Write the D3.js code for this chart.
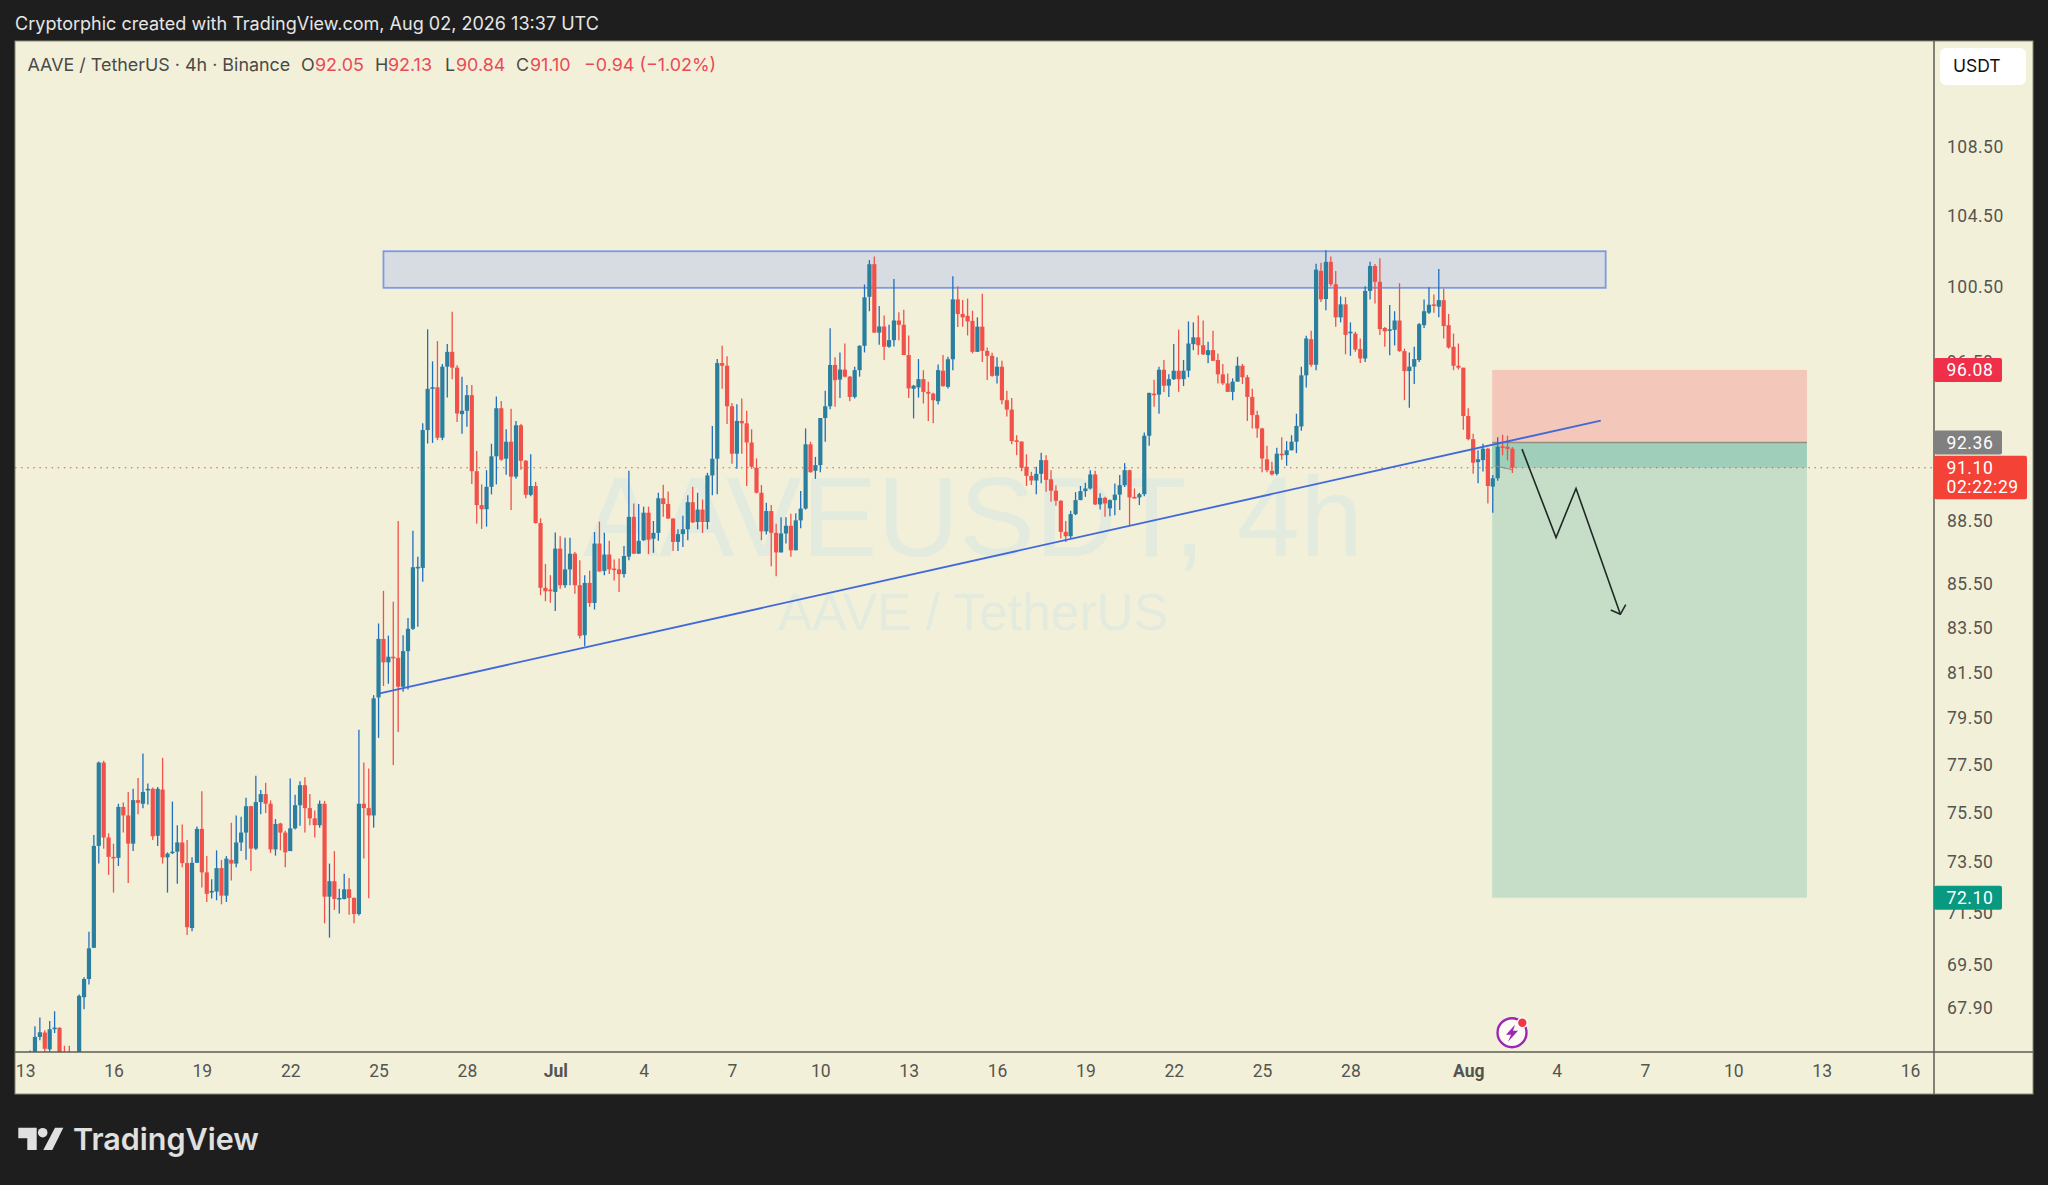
<!DOCTYPE html>
<html>
<head>
<meta charset="utf-8">
<script src="https://cdnjs.cloudflare.com/ajax/libs/d3/7.8.5/d3.min.js"></script>
<style>
  html, body { margin: 0; padding: 0; background: #1e1e1e; overflow: hidden; }
  text { font-family: Inter, Roboto, sans-serif; }
</style>
</head>
<body>
<div id="chartContainer"></div>
<script>
// 4h candles, Jun 13 04:00 -> Aug 2 12:00 (first bars are mostly under the time axis)
var opens = [
  66.0,66.0,66.84,67.0,66.39,67.13,67.17,65.9,65.7,65.4,
  65.8,68.3,68.98,70.16,74.16,77.6,74.5,73.72,73.68,75.75,
  75.4,74.25,76.03,75.88,76.47,76.5,74.57,76.47,73.7,73.9,
  73.93,74.3,73.47,70.92,73.48,74.85,73.1,72.3,72.34,73.27,
  72.18,73.6,73.45,74.3,74.7,75.78,74.05,75.95,76.28,75.88,
  74.02,75.07,74.7,73.95,74.87,75.82,76.65,75.7,75.28,75.0,
  75.88,72.14,72.75,72.05,72.05,72.43,72.09,71.46,75.88,75.7,
  75.4,80.4,83.0,81.95,82.2,82.15,80.87,82.45,83.46,86.3,
  86.27,92.99,95.12,95.18,92.6,96.25,97.03,96.2,93.8,93.97,
  94.77,90.93,89.27,89.07,90.16,91.67,94.1,91.55,92.4,90.66,
  93.23,91.45,89.77,90.2,88.4,85.34,85.26,85.15,87.18,85.46,
  86.2,86.94,85.46,83.17,85.57,84.64,87.42,86.13,86.9,86.24,
  86.2,85.98,86.8,88.7,86.94,87.58,88.9,87.65,87.93,89.6,
  89.32,88.62,87.5,87.87,88.1,89.41,88.45,89.05,88.45,90.72,
  91.55,96.44,96.3,94.2,91.8,93.45,93.33,92.36,91.1,89.87,
  88.0,88.98,87.93,87.0,87.9,88.27,87.1,88.53,89.1,92.27,
  90.95,91.23,93.6,94.2,96.34,95.58,96.1,95.73,94.68,96.07,
  97.35,99.98,101.77,98.05,98.38,97.3,97.65,98.7,98.47,96.86,
  95.1,95.17,95.6,94.94,94.85,94.46,96.04,95.2,96.64,99.84,
  99.05,98.95,98.68,97.03,98.37,97.08,96.82,95.78,96.25,94.51,
  94.03,92.47,92.41,91.15,90.7,90.47,90.8,91.48,90.53,89.97,
  89.48,87.98,87.77,88.83,89.51,89.95,90.08,90.77,89.3,89.62,
  89.11,89.51,89.78,90.24,90.98,89.67,89.64,89.8,92.7,94.85,
  94.8,96.09,95.26,95.6,96.04,95.6,96.04,97.44,97.8,97.38,
  96.86,97.12,96.6,95.85,95.38,94.94,95.47,96.3,95.7,94.68,
  93.75,93.07,91.52,90.95,90.8,91.8,91.73,91.97,92.4,93.17,
  95.8,97.7,96.35,101.4,99.86,101.9,100.67,98.87,99.57,98.05,
  98.0,97.18,96.68,100.3,101.67,100.8,98.3,98.17,98.2,98.7,
  97.07,96.02,96.25,96.6,98.45,99.12,99.57,99.45,99.8,98.45,
  97.3,96.3,96.2,93.7,92.53,91.38,91.48,92.05,90.17,90.58,
  92.17,92.15,92.05
];
var highs = [
  66.35,67.23,67.55,67.08,67.42,67.78,67.2,66.52,66.52,65.9,
  68.4,69.05,70.78,74.6,77.65,77.68,74.67,74.25,75.88,75.93,
  76.37,76.5,76.95,77.98,76.72,76.55,76.58,77.8,73.9,75.97,
  75.0,75.03,74.4,73.7,74.95,76.4,73.75,72.83,73.98,73.6,
  73.75,75.1,75.4,75.35,76.13,75.8,77.05,76.45,76.75,76.02,
  75.25,75.1,74.77,76.93,76.25,76.82,76.98,76.28,75.6,76.02,
  76.0,73.45,73.95,72.45,73.05,72.88,72.12,79.0,77.6,77.35,
  80.5,83.7,85.2,83.15,84.7,88.5,83.17,83.95,88.03,86.79,
  93.33,98.23,96.53,97.6,96.39,97.44,99.17,96.33,95.72,95.3,
  95.3,91.93,90.28,90.98,92.3,94.7,94.47,93.03,94.07,93.45,
  93.3,91.48,91.77,90.4,88.63,86.45,85.93,87.95,87.77,87.7,
  87.7,87.02,86.63,85.93,86.14,87.97,88.47,87.93,87.55,86.66,
  86.71,87.3,90.95,89.35,89.32,89.19,89.19,88.5,89.87,90.26,
  89.93,88.62,88.1,88.75,89.75,90.16,89.87,89.54,90.85,93.19,
  96.65,97.35,96.8,94.37,94.3,94.6,93.97,93.03,91.57,90.25,
  89.38,89.27,88.37,88.68,88.68,88.85,88.87,89.96,93.07,92.4,
  91.64,93.6,95.0,98.28,96.74,97.0,97.47,95.77,96.25,97.38,
  100.65,102.0,102.2,99.48,98.97,98.47,100.95,99.15,99.28,97.9,
  95.3,96.65,96.07,95.47,94.9,96.37,96.86,96.77,101.1,100.55,
  99.8,99.88,99.23,98.87,100.15,97.26,96.98,96.74,96.56,95.0,
  94.63,92.73,92.41,91.77,90.9,91.15,91.85,91.72,90.98,90.22,
  89.51,88.5,89.0,89.9,90.2,90.36,90.98,90.95,89.84,89.67,
  89.54,90.32,90.74,91.33,91.0,90.08,89.87,92.87,94.89,95.57,
  96.25,96.6,95.85,97.44,98.21,96.6,98.65,98.6,98.97,98.7,
  97.56,98.15,96.95,96.39,95.9,95.64,96.77,96.4,95.82,95.1,
  93.97,93.1,92.2,91.4,92.1,92.63,92.43,92.73,93.82,96.25,
  97.88,98.15,101.8,101.85,102.55,102.2,101.4,100.0,99.97,98.6,
  98.1,97.74,100.55,101.9,101.78,102.1,98.35,99.53,99.2,100.72,
  97.2,97.0,97.3,98.57,99.84,100.5,100.1,101.5,100.42,99.05,
  98.0,97.47,96.2,94.1,92.8,91.97,92.3,92.1,90.74,92.63,
  92.75,92.7,92.13
];
var lows = [
  65.5,65.7,66.72,66.2,66.25,66.98,65.5,65.2,65.0,65.0,
  65.6,67.85,68.77,70.15,73.45,74.05,73.0,72.3,73.35,74.7,
  72.68,73.95,75.45,75.7,75.85,74.4,74.16,73.45,72.3,73.83,
  72.65,73.3,70.65,70.8,73.47,72.5,71.93,72.07,72.0,71.84,
  71.93,72.78,73.3,73.95,73.6,73.15,74.0,75.45,75.5,73.88,
  73.77,73.98,73.3,73.95,74.82,74.98,74.7,75.0,74.5,74.9,
  71.1,70.55,71.62,71.48,72.03,71.43,71.1,71.4,73.65,72.08,
  74.9,78.65,80.9,81.0,77.5,78.9,80.65,80.75,83.4,83.55,
  85.62,92.31,92.34,92.48,92.48,94.65,95.59,93.4,92.8,93.15,
  90.3,88.37,88.12,88.23,89.79,90.28,91.45,90.75,89.03,90.56,
  91.0,89.6,89.7,88.38,85.0,84.72,84.65,84.27,85.3,85.34,
  85.46,85.07,83.02,82.67,84.46,84.34,86.1,85.93,85.98,85.68,
  85.15,85.82,86.63,86.92,86.92,87.55,86.92,86.98,87.55,88.7,
  88.6,87.07,87.07,87.26,87.58,88.4,88.1,87.93,88.1,89.75,
  89.8,95.1,93.3,91.3,91.05,91.8,90.2,91.05,89.84,87.58,
  87.85,86.35,85.88,87.0,87.42,86.8,87.1,88.15,89.05,90.86,
  90.55,90.88,92.4,94.05,94.17,94.63,95.68,94.46,94.6,95.73,
  97.0,99.2,98.05,97.4,96.6,97.25,97.32,97.65,96.86,94.63,
  93.58,94.65,94.34,93.45,93.33,94.29,95.2,95.12,96.07,98.35,
  98.37,97.9,96.95,97.03,96.5,95.55,95.73,95.38,94.3,93.68,
  92.27,91.72,90.93,90.2,90.25,89.8,90.33,89.92,89.43,89.24,
  87.66,87.5,87.66,88.78,89.51,89.67,90.03,89.27,89.05,88.7,
  88.73,88.78,89.03,90.15,88.25,89.59,89.27,89.7,92.2,94.17,
  93.82,94.94,94.68,95.55,94.94,95.24,95.7,97.12,96.86,96.86,
  96.43,96.56,95.38,95.29,94.94,94.51,95.47,95.35,93.45,93.07,
  92.6,90.88,90.88,90.72,90.72,91.5,91.2,91.97,91.83,92.95,
  95.17,96.25,96.07,99.7,99.25,100.55,98.37,98.6,96.9,96.82,
  97.03,96.45,96.5,99.84,99.62,97.93,97.3,96.85,97.37,97.03,
  94.51,94.12,95.35,96.5,98.3,99.05,99.12,98.87,97.74,97.2,
  96.07,96.1,93.0,92.47,90.8,90.33,90.92,89.35,88.9,90.46,
  91.72,91.47,90.84
];
var closes = [
  66.2,66.84,67.01,66.41,67.12,67.18,65.8,65.6,65.4,65.6,
  68.35,68.98,70.14,74.16,77.6,74.5,73.72,73.68,75.75,75.4,
  74.25,76.03,75.92,76.37,76.5,74.55,76.5,73.7,73.85,73.93,
  74.3,73.47,70.95,73.48,74.85,73.1,72.25,72.37,73.27,72.18,
  73.65,73.45,74.3,74.7,75.78,74.05,75.95,76.28,75.88,74.02,
  75.05,74.7,73.9,74.87,75.82,76.65,75.7,75.28,75.0,75.88,
  72.14,72.75,72.05,72.09,72.43,72.09,71.46,75.88,75.7,75.4,
  80.36,83.0,81.95,82.2,82.15,80.87,82.45,83.46,86.3,86.32,
  92.99,95.1,95.18,92.6,96.25,97.03,96.2,93.83,93.97,94.77,
  90.93,89.27,89.07,90.16,91.67,94.1,91.5,92.4,90.66,93.23,
  91.45,89.77,90.2,88.4,85.34,85.18,85.18,87.18,85.46,86.2,
  86.94,85.46,83.14,85.57,84.64,87.42,86.1,86.9,86.2,86.2,
  85.98,86.83,88.7,86.94,87.55,88.9,87.6,87.93,89.6,89.32,
  88.62,87.5,87.87,88.1,89.41,88.43,89.05,88.45,90.72,91.55,
  96.44,96.3,94.2,91.8,93.45,93.33,92.36,91.15,89.87,88.0,
  88.98,87.93,87.0,87.9,88.27,87.1,88.53,89.1,92.27,90.88,
  91.23,93.6,94.2,96.34,95.55,96.1,95.73,94.68,96.07,97.35,
  99.95,101.77,98.05,98.38,97.3,97.65,98.7,98.47,96.86,95.12,
  95.26,95.6,94.94,94.85,94.51,96.07,95.24,96.64,99.84,99.05,
  98.87,98.65,97.03,98.37,97.08,96.82,95.77,96.25,94.51,94.03,
  92.43,92.39,91.1,90.7,90.47,90.8,91.48,90.5,89.97,89.48,
  87.98,87.77,88.83,89.51,89.95,90.08,90.77,89.3,89.62,89.35,
  89.51,89.78,90.24,90.98,89.64,89.62,89.8,92.7,94.89,94.8,
  96.09,95.26,95.6,96.04,95.6,96.04,97.47,97.8,97.38,96.9,
  97.12,96.56,95.85,95.38,94.94,95.47,96.3,95.7,94.68,93.75,
  93.07,91.56,90.98,90.77,91.8,91.73,91.97,92.4,93.2,95.8,
  97.74,96.35,101.47,99.84,101.9,100.67,98.87,99.57,97.93,98.1,
  97.15,96.68,100.3,101.67,100.8,98.24,98.12,98.23,98.7,97.07,
  96.02,96.25,96.65,98.5,99.2,99.55,99.52,99.8,98.4,97.26,
  96.3,96.2,93.7,92.53,91.35,91.52,92.05,90.2,90.58,92.15,
  92.1,92.04,91.1
];

var firstBar = Date.UTC(2026, 5, 13, 4);
var barMs = 4 * 3600 * 1000;

var priceTicks = [108.5, 104.5, 100.5, 96.5, 92.5, 88.5, 85.5, 83.5, 81.5, 79.5, 77.5, 75.5, 73.5, 71.5, 69.5, 67.9];
var dateTicks = ["2026-06-13","2026-06-16","2026-06-19","2026-06-22","2026-06-25","2026-06-28","2026-07-01","2026-07-04","2026-07-07","2026-07-10","2026-07-13","2026-07-16","2026-07-19","2026-07-22","2026-07-25","2026-07-28","2026-08-01","2026-08-04","2026-08-07","2026-08-10","2026-08-13","2026-08-16"];
var dateLabels = ["13","16","19","22","25","28","Jul","4","7","10","13","16","19","22","25","28","Aug","4","7","10","13","16"];

// levels
var lastPrice = 91.10, entryPrice = 92.36, stopPrice = 96.08, targetPrice = 72.10;
var zoneTop = 102.49, zoneBottom = 100.47;
var zoneTimes = ["2026-06-25T04:00Z", "2026-08-05T16:00Z"];
var positionTimes = ["2026-08-01T19:30Z", "2026-08-12T12:00Z"];
var trendTimes = ["2026-06-25T01:00Z", "2026-08-05T12:00Z"];
var trendPrices = [80.58, 93.47];
var arrowTimes = ["2026-08-02T19:50Z", "2026-08-03T23:33Z", "2026-08-04T15:50Z", "2026-08-06T03:58Z"];
var arrowPrices = [92.03, 87.71, 90.08, 84.12];
var headTimes = ["2026-08-05T20:08Z", "2026-08-06T03:58Z", "2026-08-06T08:21Z"];
var headPrices = [84.32, 84.12, 84.56];
var stubTimes = ["2026-08-01T22:00Z", "2026-08-02T12:00Z"];
var stubPrices = [91.2, 91.0];

var width = 2048, height = 1185;
var left = 15, top_ = 41, plotRight = 1934, right = 2033, plotBottom = 1052, bottom = 1094;

var bg = "#f3f0da", upBody = "#2a7f9f", upWick = "#1f6fbf", downCol = "#f0524a", textCol = "#555550";

var svg = d3.select("#chartContainer").append("svg")
  .attr("width", width).attr("height", height)
  .style("display", "block");

var x = d3.scaleUtc()
  .domain([new Date("2026-06-16"), new Date("2026-08-16")])
  .range([113.5, 1910]);
var y = d3.scaleLog()
  .domain([108.5, 67.9])
  .range([146.5, 1008]);

function t(s) { return x(new Date(s)); }

svg.append("rect").attr("width", width).attr("height", height).attr("fill", "#1e1e1e");
svg.append("rect")
  .attr("x", left).attr("y", top_)
  .attr("width", right - left).attr("height", bottom - top_)
  .attr("fill", bg).attr("stroke", "#8c8a78").attr("stroke-width", 1);

svg.append("defs").append("clipPath").attr("id", "plot")
  .append("rect").attr("x", left).attr("y", top_)
  .attr("width", plotRight - left).attr("height", plotBottom - top_);

var plot = svg.append("g").attr("clip-path", "url(#plot)");

// watermark
plot.append("text").attr("x", 973).attr("y", 556)
  .attr("text-anchor", "middle").attr("fill", "#e3ebdf")
  .style("font-family", "'Liberation Sans'").style("font-size", "113.5px")
  .text("AAVEUSDT, 4h");
plot.append("text").attr("x", 973).attr("y", 630)
  .attr("text-anchor", "middle").attr("fill", "#e3ebdf")
  .style("font-family", "'Liberation Sans'").style("font-size", "51.5px")
  .text("AAVE / TetherUS");

// short position tool
var posX0 = t(positionTimes[0]), posX1 = t(positionTimes[1]);
plot.append("rect").attr("x", posX0).attr("width", posX1 - posX0)
  .attr("y", y(stopPrice)).attr("height", y(entryPrice) - y(stopPrice)).attr("fill", "#f3c8bb");
plot.append("rect").attr("x", posX0).attr("width", posX1 - posX0)
  .attr("y", y(entryPrice)).attr("height", y(targetPrice) - y(entryPrice)).attr("fill", "#c6dec8");
plot.append("rect").attr("x", posX0).attr("width", posX1 - posX0)
  .attr("y", y(entryPrice)).attr("height", y(lastPrice) - y(entryPrice)).attr("fill", "#9fcfba");
plot.append("line").attr("x1", posX0).attr("x2", posX1)
  .attr("y1", y(entryPrice)).attr("y2", y(entryPrice))
  .attr("stroke", "#8f8f80").attr("stroke-width", 1.5);

// resistance zone
plot.append("rect")
  .attr("x", t(zoneTimes[0])).attr("width", t(zoneTimes[1]) - t(zoneTimes[0]))
  .attr("y", y(zoneTop)).attr("height", y(zoneBottom) - y(zoneTop))
  .attr("fill", "#d6dce2").attr("stroke", "#7d9ae2").attr("stroke-width", 1.8);

// last price line
plot.append("line").attr("x1", left).attr("x2", plotRight)
  .attr("y1", y(lastPrice)).attr("y2", y(lastPrice))
  .attr("stroke", "#ef4a48").attr("stroke-width", 1.2).attr("stroke-dasharray", "1.5 4.6");

// candles
var bars = d3.range(opens.length);
function barX(i) { return x(new Date(firstBar + i * barMs)); }
function isUp(i) { return closes[i] >= opens[i]; }

plot.append("g").selectAll("line").data(bars).join("line")
  .attr("x1", barX).attr("x2", barX)
  .attr("y1", function (i) { return y(highs[i]); })
  .attr("y2", function (i) { return y(lows[i]); })
  .attr("stroke", function (i) { return isUp(i) ? upWick : downCol; })
  .attr("stroke-width", 1.3);

plot.append("g").selectAll("rect").data(bars).join("rect")
  .attr("x", function (i) { return barX(i) - 2.1; })
  .attr("width", 4.2)
  .attr("y", function (i) { return y(Math.max(opens[i], closes[i])); })
  .attr("height", function (i) { return Math.max(1.6, Math.abs(y(opens[i]) - y(closes[i]))); })
  .attr("fill", function (i) { return isUp(i) ? upBody : downCol; });

// trend line + projected move
var line = d3.line()
  .x(function (d) { return t(d[0]); })
  .y(function (d) { return y(d[1]); });

plot.append("path").attr("d", line(d3.zip(trendTimes, trendPrices)))
  .attr("fill", "none").attr("stroke", "#4169d8").attr("stroke-width", 1.8);
plot.append("path").attr("d", line(d3.zip(stubTimes, stubPrices)))
  .attr("fill", "none").attr("stroke", "#8c8c80").attr("stroke-width", 1.2);
plot.append("path").attr("d", line(d3.zip(arrowTimes, arrowPrices)))
  .attr("fill", "none").attr("stroke", "#1f2a24").attr("stroke-width", 1.6);
plot.append("path").attr("d", line(d3.zip(headTimes, headPrices)))
  .attr("fill", "none").attr("stroke", "#1f2a24").attr("stroke-width", 1.6);

// price axis
var yAxis = svg.append("g").attr("transform", "translate(" + plotRight + ",0)")
  .call(d3.axisRight(y).tickValues(priceTicks).tickFormat(d3.format(".2f")).tickSize(0).tickPadding(13));
yAxis.select(".domain").remove();
yAxis.selectAll("text").attr("fill", textCol).style("font-family", "Roboto").style("font-size", "17.5px").style("letter-spacing", "0.5px");

// time axis
var xAxis = svg.append("g").attr("transform", "translate(0," + plotBottom + ")")
  .call(d3.axisBottom(x)
    .tickValues(dateTicks.map(function (d) { return new Date(d); }))
    .tickFormat(function (d, i) { return dateLabels[i]; })
    .tickSize(0).tickPadding(13));
xAxis.select(".domain").remove();
xAxis.selectAll("text").attr("fill", textCol).style("font-family", "Roboto").style("font-size", "17.5px")
  .style("font-weight", function (d, i) { return isNaN(+dateLabels[i]) ? "700" : "400"; });

svg.append("line").attr("x1", left).attr("x2", right).attr("y1", plotBottom).attr("y2", plotBottom)
  .attr("stroke", "#5e5e58").attr("stroke-width", 1.5);
svg.append("line").attr("x1", plotRight).attr("x2", plotRight).attr("y1", top_).attr("y2", bottom)
  .attr("stroke", "#5e5e58").attr("stroke-width", 1.5);

// price labels on the scale
function priceLabel(value, w, fill, lines) {
  var h = 24 + (lines.length - 1) * 19.5;
  var cy = y(value);
  var g = svg.append("g");
  g.append("rect").attr("x", plotRight).attr("y", cy - 12).attr("width", w).attr("height", h)
    .attr("rx", 2).attr("fill", fill);
  lines.forEach(function (s, i) {
    g.append("text").attr("x", plotRight + 12.5).attr("y", cy + 6 + i * 19.5)
      .attr("fill", "#fff").style("font-family", "Roboto").style("font-size", "17.5px").style("letter-spacing", "0.6px")
      .text(s);
  });
}
priceLabel(stopPrice, 68, "#f0304a", [stopPrice.toFixed(2)]);
priceLabel(entryPrice, 68, "#808080", [entryPrice.toFixed(2)]);
priceLabel(lastPrice, 93, "#f44336", [lastPrice.toFixed(2), "02:22:29"]);
priceLabel(targetPrice, 68, "#089981", [targetPrice.toFixed(2)]);

// currency button
svg.append("rect").attr("x", 1940).attr("y", 48).attr("width", 86).attr("height", 37).attr("rx", 6).attr("fill", "#fff");
svg.append("text").attr("x", 1953).attr("y", 72).attr("fill", "#111")
  .style("font-size", "17.5px").text("USDT");

// header text
svg.append("text").attr("x", 15).attr("y", 30).attr("fill", "#e6e6e6")
  .style("font-size", "18.05px")
  .text("Cryptorphic created with TradingView.com, Aug 02, 2026 13:37 UTC");

var legendParts = [
  ["AAVE / TetherUS \u00b7 4h \u00b7 Binance", 27.5, "#4a4a48"],
  ["O", 301, "#4a4a48"], ["92.05", 315, "#ea4a55"],
  ["H", 375, "#4a4a48"], ["92.13", 388, "#ea4a55"],
  ["L", 445, "#4a4a48"], ["90.84", 456, "#ea4a55"],
  ["C", 516, "#4a4a48"], ["91.10", 530, "#ea4a55"],
  ["\u22120.94 (\u22121.02%)", 584, "#ea4a55"]
];
svg.append("g").selectAll("text").data(legendParts).join("text")
  .attr("x", function (d) { return d[1]; }).attr("y", 71)
  .attr("fill", function (d) { return d[2]; })
  .style("font-size", "17.9px")
  .text(function (d) { return d[0]; });

// alert badge near the last bars
var badge = svg.append("g").attr("transform", "translate(1512,1032.7)");
badge.append("circle").attr("r", 16).attr("fill", "#fff").attr("opacity", 0.7);
badge.append("circle").attr("r", 14.5).attr("fill", "none").attr("stroke", "#9c27b0").attr("stroke-width", 2.4);
badge.append("path").attr("d", "M3,-8 L-6,2 L-1,2 L-4,9 L6,-2 L1,-2 Z").attr("fill", "#9c27b0");
badge.append("circle").attr("cx", 10.3).attr("cy", -10).attr("r", 5.5).attr("fill", "#fff");
badge.append("circle").attr("cx", 10.3).attr("cy", -10).attr("r", 4.2).attr("fill", "#f23645");

// footer logo
var logo = svg.append("g").attr("fill", "#e0e0e0");
logo.append("path").attr("d", "M18.3,1127.7H36.7V1150H27.3V1138.3H18.3Z");
logo.append("circle").attr("cx", 42.7).attr("cy", 1132.7).attr("r", 4.8);
logo.append("path").attr("d", "M55,1127.7H63.3L52.3,1150H43.3Z");
logo.append("text").attr("x", 73).attr("y", 1150).attr("fill", "#e0e0e0")
  .style("font-size", "30.5px").style("font-weight", "600").text("TradingView");
</script>
</body>
</html>
